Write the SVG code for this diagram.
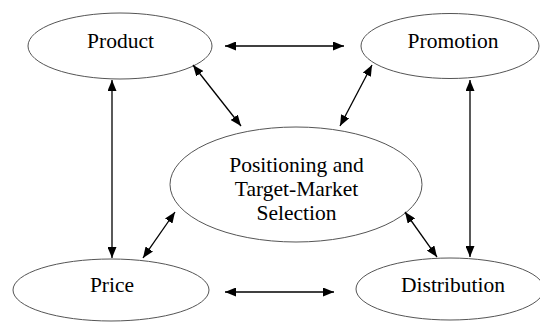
<svg xmlns="http://www.w3.org/2000/svg" width="540" height="322" viewBox="0 0 540 322">
<style>
.n ellipse{fill:#fff;stroke:#555;stroke-width:1}
.n text{font-family:"Liberation Serif","Times New Roman",serif;font-size:21.5px;fill:#000;text-anchor:middle}
.c line{stroke:#000;stroke-width:1.3;marker-start:url(#ah);marker-end:url(#ah)}
</style>
<defs>
<marker id="ah" markerUnits="userSpaceOnUse" markerWidth="11" markerHeight="9" refX="11" refY="4.5" orient="auto-start-reverse" viewBox="0 0 11 9">
<path d="M0,0 L11,4.5 L0,9 z" fill="#000"/>
</marker>
</defs>
<rect width="540" height="322" fill="#fff"/>
<g id="product" class="n"><ellipse cx="120" cy="46" rx="92" ry="33"/><text x="120.5" y="48">Product</text></g>
<g id="promotion" class="n"><ellipse cx="450" cy="46" rx="89" ry="32.5"/><text x="453" y="48">Promotion</text></g>
<g id="price" class="n"><ellipse cx="111" cy="290" rx="98" ry="31"/><text x="112" y="292">Price</text></g>
<g id="distribution" class="n"><ellipse cx="450" cy="289" rx="94" ry="31"/><text x="453" y="292">Distribution</text></g>
<g id="center" class="n"><ellipse cx="296" cy="184.5" rx="126" ry="57.5"/><text x="296.5" y="172">Positioning and</text><text x="296.5" y="196">Target-Market</text><text x="296.5" y="220">Selection</text></g>
<g id="connectors" class="c">
<line x1="225" y1="46" x2="344" y2="46"/>
<line x1="225" y1="292" x2="334" y2="292"/>
<line x1="112" y1="80" x2="112" y2="258"/>
<line x1="470" y1="80" x2="470" y2="257"/>
<line x1="193" y1="65" x2="241" y2="126"/>
<line x1="372" y1="65" x2="340" y2="126"/>
<line x1="175" y1="212" x2="143" y2="258"/>
<line x1="405" y1="212" x2="437" y2="257"/>
</g>
</svg>
